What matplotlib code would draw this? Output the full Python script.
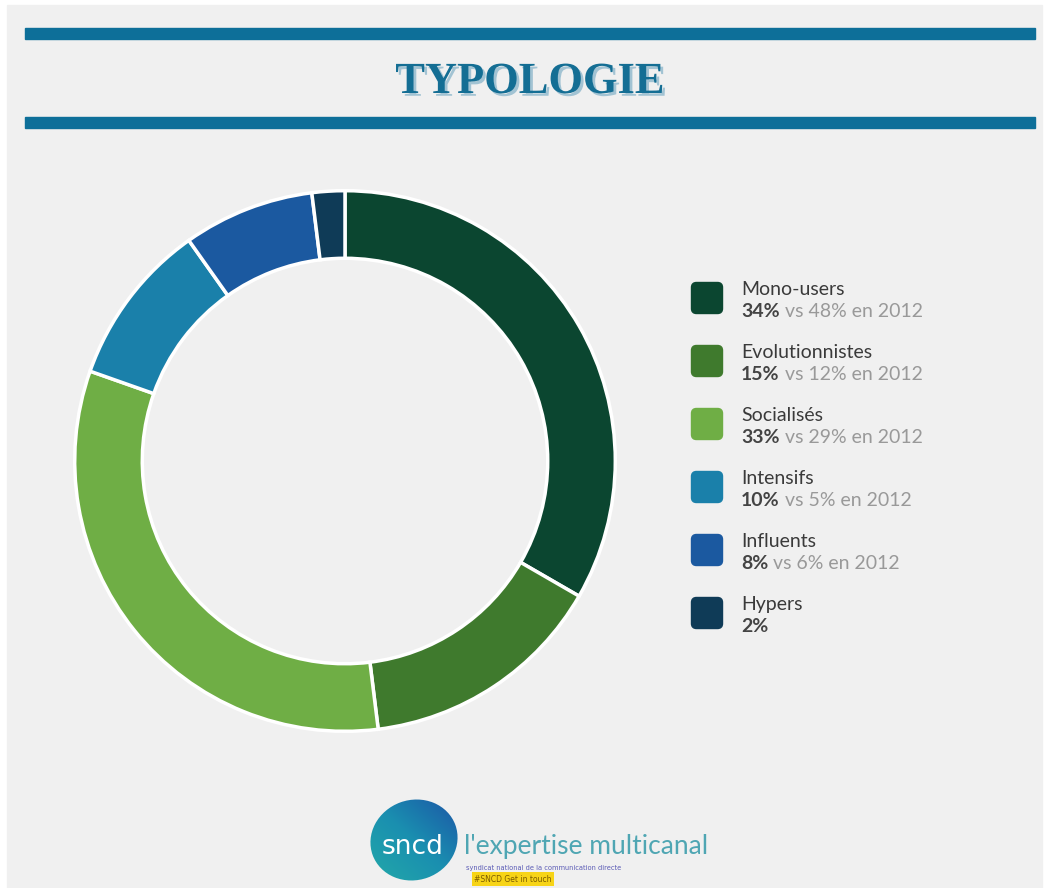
import matplotlib.pyplot as plt
import matplotlib.patheffects as pe
from matplotlib.colors import LinearSegmentedColormap
from matplotlib.patches import Rectangle, FancyBboxPatch, Ellipse
import numpy as np

# données de la typologie
categories = ["Mono-users", "Evolutionnistes", "Socialisés", "Intensifs", "Influents", "Hypers"]
parts = [34, 15, 33, 10, 8, 2]
parts_2012 = [48, 12, 29, 5, 6, None]
couleurs = ["#0b4630", "#3f7a2d", "#6fae45", "#1a80aa", "#1b59a0", "#0f3b57"]

W, H = 1049, 888
fig = plt.figure(figsize=(W / 100, H / 100), dpi=100, facecolor="white")

# calque de fond en pixels
bg = fig.add_axes([0, 0, 1, 1])
bg.set_xlim(0, W)
bg.set_ylim(H, 0)
bg.axis("off")
bg.add_patch(Rectangle((7, 5), W - 14, H, color="#f0f0f0", zorder=0))

# bandeaux bleus et titre
for y in (34, 123):
    bg.add_patch(Rectangle((25, y - 5.5), 1010, 11, color="#0d6f99", zorder=1))
bg.text(530, 82, "TYPOLOGIE", ha="center", va="center", fontsize=32,
        fontfamily="Liberation Serif", fontweight="bold", color="#146e94",
        path_effects=[pe.withSimplePatchShadow(offset=(2, -2), shadow_rgbFace="#8fb8cc", alpha=0.8)])

# donut
ax = fig.add_axes([72 / W, (H - 734) / H, 546 / W, 546 / H])
ax.pie(parts, colors=couleurs, startangle=90, counterclock=False, radius=1,
       wedgeprops=dict(width=0.25, edgecolor="white", linewidth=2.5))
ax.set_xlim(-1.01, 1.01)
ax.set_ylim(-1.01, 1.01)
ax.set_aspect("equal")
ax.axis("off")

# légende
y0, pas = 298, 63
for i, (nom, p, p12, c) in enumerate(zip(categories, parts, parts_2012, couleurs)):
    yc = y0 + i * pas
    bg.add_patch(FancyBboxPatch((693, yc - 14), 28, 28,
                                boxstyle="round,pad=1.5,rounding_size=5",
                                color=c, zorder=2))
    bg.text(741, yc - 9, nom, ha="left", va="center", fontsize=14,
            fontfamily="Lato", color="#3a3a3a")
    t = bg.text(741, yc + 13, f"{p}%", ha="left", va="center", fontsize=14,
                fontfamily="Lato", fontweight="bold", color="#444444")
    if p12 is not None:
        bg.annotate(f" vs {p12}% en 2012", xycoords=t, xy=(1, 0.5),
                    ha="left", va="center", fontsize=14,
                    fontfamily="Lato", color="#999999")

# logo sncd : pastille en dégradé
blob = Ellipse((414, 840), 88, 80, angle=-20, transform=bg.transData)
gx, gy = np.meshgrid(np.linspace(0, 1, 100), np.linspace(0, 1, 100))
img = bg.imshow((gx + gy) / 2, extent=(368, 460, 882, 798),
                cmap=LinearSegmentedColormap.from_list(
                    "sncd", ["#23a9a8", "#1a8fb0", "#1c55a6"]),
                zorder=3, aspect="auto", origin="lower")
img.set_clip_path(blob)
bg.set_xlim(0, W)
bg.set_ylim(H, 0)
bg.text(413, 847, "sncd", ha="center", va="center", fontsize=19,
        fontfamily="DejaVu Sans", color="white", zorder=4)
bg.text(464, 846, "l'expertise multicanal", ha="left", va="center", fontsize=19,
        fontfamily="Lato", color="#4fa6b3", zorder=4)
bg.text(466, 868, "syndicat national de la communication directe", ha="left",
        va="center", fontsize=4.8, fontfamily="DejaVu Sans", color="#5a5ab5")
bg.text(474, 879, "#SNCD Get in touch", ha="left", va="center", fontsize=5.5,
        fontfamily="DejaVu Sans", color="#7a5a00",
        bbox=dict(boxstyle="square,pad=0.3", fc="#f7d417", ec="none"))

fig.savefig("out.png", dpi=100, facecolor=fig.get_facecolor())
